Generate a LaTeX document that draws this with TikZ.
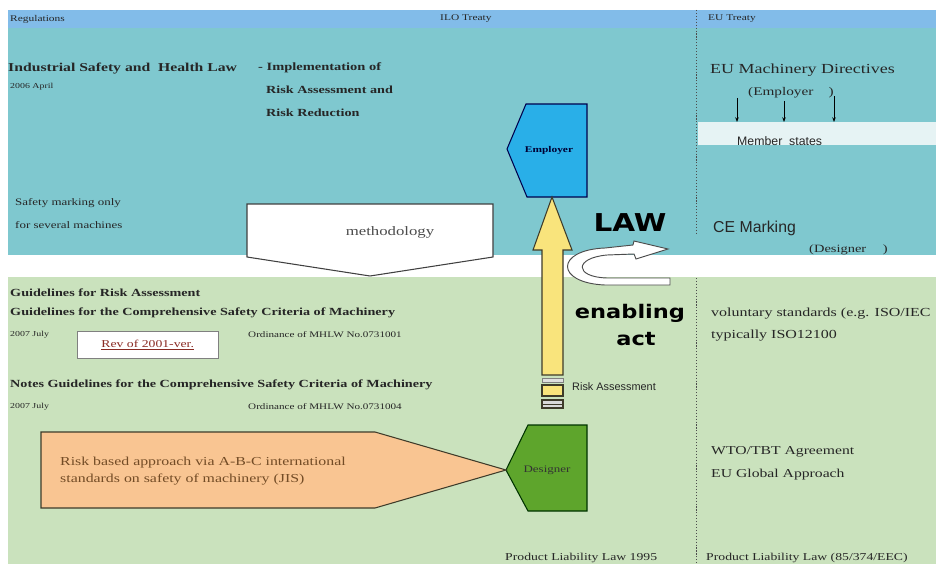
\documentclass[tikz,border=0pt]{standalone}
\usepackage{fontspec}
\setmainfont{Liberation Serif}[FakeStretch=1.3]
\setsansfont{Liberation Sans}
\newfontfamily\heavyfont{DejaVu Sans}[FakeStretch=1.2]
\usetikzlibrary{arrows.meta,positioning}
\definecolor{hdrblue}{HTML}{82BCE9}
\definecolor{iloteal}{HTML}{7FC8CF}
\definecolor{lawgreen}{HTML}{CAE2BD}
\definecolor{memberband}{HTML}{E6F3F4}
\definecolor{empblue}{HTML}{29AFE8}
\definecolor{desgreen}{HTML}{5EA52C}
\definecolor{riskorange}{HTML}{F9C592}
\definecolor{lawyellow}{HTML}{F9E47C}
\definecolor{outline}{HTML}{3E3B2A}
\definecolor{revred}{HTML}{8A2A22}
\newcommand{\fsz}[1]{\fontsize{#1}{#1}\selectfont}

\begin{document}
\begin{tikzpicture}[x=0.03cm, y=-0.03cm, lbl/.style={anchor=west, inner sep=0pt, text=black!85}, ttl/.style={lbl, font=\bfseries\fsz{9.3}}, note/.style={lbl, font=\fsz{6.5}}, big/.style={inner sep=0pt, font=\heavyfont\bfseries\fsz{16}}, shp/.style={draw=outline, line width=0.9pt}, arr/.style={-{Stealth[length=4pt,width=3pt]}, semithick}]
\useasboundingbox (0,0) rectangle (936,564);
% background bands
\fill[white] (0,0) rectangle (936,564);
\fill[hdrblue] (8,10) rectangle (936,28);
\fill[iloteal] (8,28) rectangle (936,255);
\fill[lawgreen] (8,277) rectangle (936,564);
\node[fill=memberband, anchor=north west, inner sep=0pt, minimum width=238*0.03cm, minimum height=23*0.03cm] (band) at (698,122) {};
\draw[gray!60!black, dash pattern=on 1pt off 1.5pt] (696,10) -- (696,235) (696,278) -- (696,564);

% headers
\node[lbl, font=\fsz{7.5}] (regs) at (10,19) {Regulations};
\node[lbl, font=\fsz{7.5}] (ilo) at (440,19) {ILO Treaty};
\node[lbl, font=\fsz{7.5}] (eutreaty) at (708,19) {EU Treaty};

% upper left
\node[lbl, font=\bfseries\fsz{10.3}] (ishl) at (8,69) {Industrial Safety and\ \ Health Law};
\node[note] (ishldate) at (10,87) {2006 April};
\node[lbl, font=\bfseries\fsz{9.5}] (impl) at (258,68) {- Implementation of};
\node[lbl, font=\bfseries\fsz{9.3}] (implra) at (266,90) {Risk Assessment and};
\node[lbl, font=\bfseries\fsz{9.3}] (implrr) at (266,113) {Risk Reduction};
\node[lbl, font=\fsz{8.5}] (marking) at (15,203) {Safety marking only};
\node[lbl, font=\fsz{8.5}] (machines) at (15,225) {for several machines};

% methodology
\draw[draw=black!75, line width=0.9pt, fill=white] (247,204) -- (493,204) -- (493,257) -- (370,276) -- (247,257) -- cycle;
\node[font=\fsz{11}, text=black!70] (method) at (390,232) {methodology};

% employer / designer
\draw[shp, draw=blue!30!black, fill=empblue] (507,149) -- (526,104) -- (587,104) -- (587,197) -- (527,197) -- cycle;
\node[font=\bfseries\fsz{7.5}, text=blue!20!black] (employer) at (549,150) {Employer};
\draw[shp, draw=green!20!black, fill=desgreen] (506,470) -- (528,425) -- (587,425) -- (587,511) -- (528,511) -- cycle;
\node[font=\fsz{8.5}, text=black!80] (designer) at (547,470) {Designer};

% yellow enabling arrow
\coordinate (riskbase) at (552,375);
\draw[shp, fill=lawyellow] (542,375) -- (542,250) -- (533,250) -- (552,197) -- (572,250) -- (563,250) -- (563,375) -- cycle;
\draw[draw=gray, fill=gray!25] (542,378) rectangle (563,382);
\draw[shp, fill=lawyellow] (542,385) rectangle (563,396);
\draw[shp, fill=gray!30] (542,400) rectangle (563,408);
\draw[outline] (542,404) -- (563,404);
\node[lbl, font=\sffamily\fsz{9.3}] (riskass) at (572,387) {Risk Assessment};

% LAW and curved arrow
\node[big, font=\heavyfont\bfseries\fsz{21}] (law) at (630,223) {LAW};
\draw[draw=black!70, line width=0.8pt, fill=white] (670,285) -- (605,285) .. controls (555,283) and (555,250) .. (605,248) -- (633,245) -- (634,241) -- (668,249) -- (636,259) -- (634,254) -- (607,255) .. controls (574,258) and (574,277) .. (607,278) -- (670,278) -- cycle;
\node[big] (enabling) at (630,313) {enabling};
\node[big] (act) at (636,339) {act};

% EU side
\node[lbl, font=\fsz{11.8}] (eumd) at (710,70) {EU Machinery Directives};
\node[lbl, font=\fsz{10}] (eumdemp) at (748,93) {(Employer\hspace{1.3em})};
\node[lbl, font=\sffamily\fsz{10.5}] (members) at (737,141) {Member\ \ states};
\coordinate (e1) at (737,98);
\coordinate (e2) at (784,101);
\coordinate (e3) at (834,96);
\draw[arr] (e1) -- (e1 |- band.north);
\draw[arr] (e2) -- (e2 |- band.north);
\draw[arr] (e3) -- (e3 |- band.north);
\node[lbl, font=\sffamily\fsz{13.5}] (ce) at (713,228) {CE Marking};
\node[lbl, font=\fsz{9.5}] (cedes) at (809,250) {(Designer\hspace{1.5em})};

% lower left
\node[ttl] (grisk) at (10,293) {Guidelines for Risk Assessment};
\node[ttl] (gcomp) at (10,313) {Guidelines for the Comprehensive Safety Criteria of Machinery};
\node[note] (gdate) at (10,335) {2007 July};
\node[lbl, font=\fsz{7.3}] (gord) at (248,335) {Ordinance of MHLW No.0731001};
\node[draw=gray, fill=white, minimum width=141*0.03cm, minimum height=27*0.03cm, inner sep=0pt, anchor=north west, font=\fsz{9}, text=revred] (rev) at (77,331) {\underline{Rev of 2001-ver.}};
\node[ttl] (notes) at (10,385) {Notes Guidelines for the Comprehensive Safety Criteria of Machinery};
\node[note] (ndate) at (10,407) {2007 July};
\node[lbl, font=\fsz{7.3}] (nord) at (248,407) {Ordinance of MHLW No.0731004};

% risk based approach
\draw[shp, fill=riskorange] (41,432) -- (375,432) -- (506,470) -- (375,508) -- (41,508) -- cycle;
\node[lbl, font=\fontsize{10.4}{14.5}\selectfont, text=brown!60!black, align=left] (abc) at (60,471) {Risk based approach via A-B-C international\\standards on safety of machinery (JIS)};

% standards side
\node[lbl, font=\fsz{10.5}] (vol) at (711,314) {voluntary standards (e.g. ISO/IEC};
\node[lbl, font=\fsz{10.5}] (iso) at (711,336) {typically ISO12100};
\node[lbl, font=\fsz{10.3}] (wto) at (711,452) {WTO/TBT Agreement};
\node[lbl, font=\fsz{10.3}] (global) at (711,475) {EU Global Approach};
\node[lbl, font=\fsz{9}] (pljp) at (505,558) {Product Liability Law 1995};
\node[lbl, font=\fsz{9}] (pleu) at (706,558) {Product Liability Law (85/374/EEC)};
\end{tikzpicture}
\end{document}
